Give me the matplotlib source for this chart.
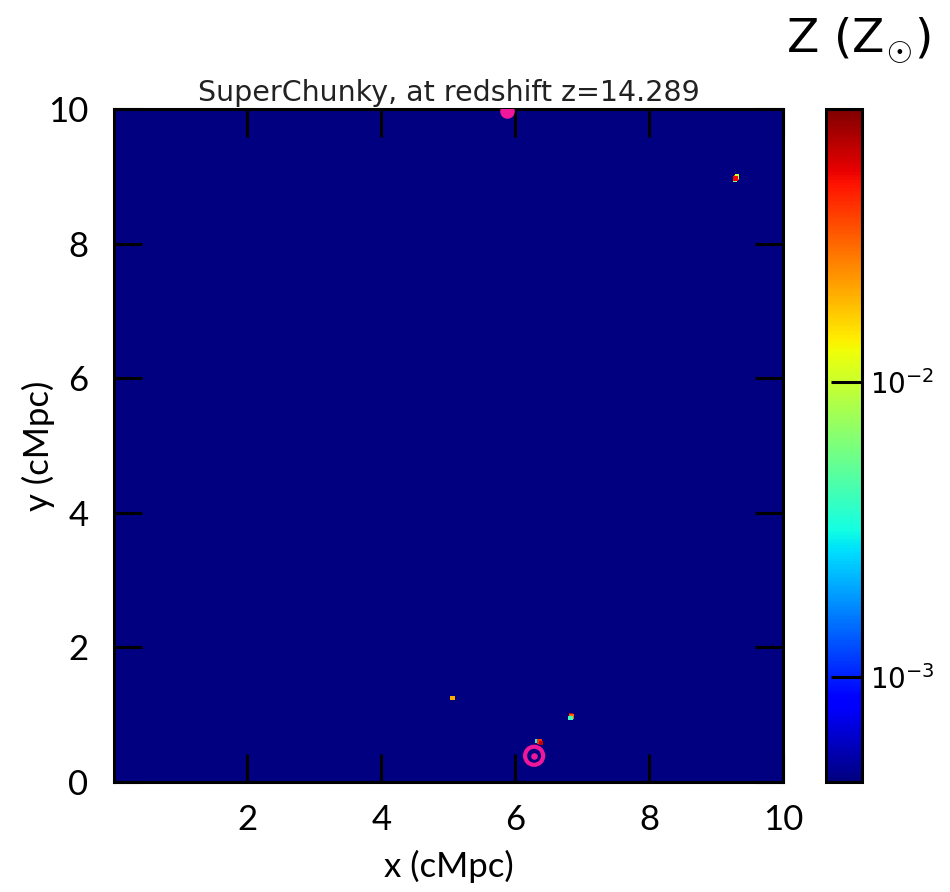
import matplotlib
matplotlib.use("Agg")
import matplotlib.pyplot as plt
import numpy as np
from matplotlib.colors import LogNorm

plt.rcParams['mathtext.fontset'] = 'cm'

# ---- data ----
title = "SuperChunky, at redshift z=14.289"
xlabel = "x (cMpc)"
ylabel = "y (cMpc)"
cbar_label = r"Z (Z$_{\odot}$)"
x_ticks = [2, 4, 6, 8, 10]
y_ticks = [0, 2, 4, 6, 8, 10]
z_min, z_max = 4.4e-4, 8.4e-2
cbar_ticks = [1e-3, 1e-2]

# metal-enriched gas pixels (x, y in cMpc, metallicity in Zsun)
blob_x = [9.28, 9.30, 9.31, 9.29, 5.06, 6.83, 6.84, 6.82, 6.33, 6.36, 6.38]
blob_y = [8.95, 8.98, 9.00, 8.97, 1.25, 0.99, 0.97, 0.95, 0.61, 0.60, 0.58]
blob_z = [0.006, 0.03, 0.01, 0.05, 0.02, 0.06, 0.03, 0.004, 0.003, 0.04, 0.06]

# halo markers
halo_x = [6.28, 5.88]
halo_y = [0.39, 9.97]

fig = plt.figure(figsize=(9.5, 8.92), dpi=100)
ax = fig.add_axes([0.1195, 0.1233, 0.705, 0.7545])
cax = fig.add_axes([0.8695, 0.1233, 0.038, 0.7545])

cmap = plt.get_cmap('jet')
norm = LogNorm(vmin=z_min, vmax=z_max)
ax.set_facecolor(cmap(0.0))

sc = ax.scatter(blob_x, blob_y, c=blob_z, cmap=cmap, norm=norm, s=11, marker='s',
                linewidths=0, zorder=2)

# halo ring at bottom and filled marker at top
ax.scatter(halo_x[:1], halo_y[:1], s=170, facecolors='none', edgecolors='#f0179a',
           linewidths=3.0, zorder=3)
ax.scatter(halo_x[:1], halo_y[:1], s=14, color='#f0179a', zorder=3)
ax.scatter(halo_x[1:], halo_y[1:], s=90, color='#f0179a', zorder=3, clip_on=True)

ax.set_xlim(0, 10)
ax.set_ylim(0, 10)
ax.set_xticks(x_ticks)
ax.set_yticks(y_ticks)
ax.tick_params(direction='in', length=20, width=2.2, top=True, right=True,
               labelsize=25, pad=18, color='black')
ax.tick_params(axis='x', pad=16)
for lab in ax.get_xticklabels() + ax.get_yticklabels():
    lab.set_fontfamily('Lato')
for s in ax.spines.values():
    s.set_linewidth(2.2)

ax.set_title(title, fontsize=20.5, family='DejaVu Sans', color='#222222', pad=6)
ax.set_xlabel(xlabel, fontsize=25, family='Lato', labelpad=10)
ax.set_ylabel(ylabel, fontsize=25, family='Lato')
ax.yaxis.set_label_coords(-0.088, 0.5)

cb = fig.colorbar(sc, cax=cax)
cb.set_ticks(cbar_ticks)
cb.ax.minorticks_off()
cb.ax.tick_params(direction='in', length=22, width=2.2, labelsize=20, pad=6)
cb.outline.set_linewidth(2.2)

fig.text(0.98, 0.955, cbar_label, fontsize=34, family='DejaVu Sans', ha='right', va='center')

fig.savefig('out.png', dpi=100)
